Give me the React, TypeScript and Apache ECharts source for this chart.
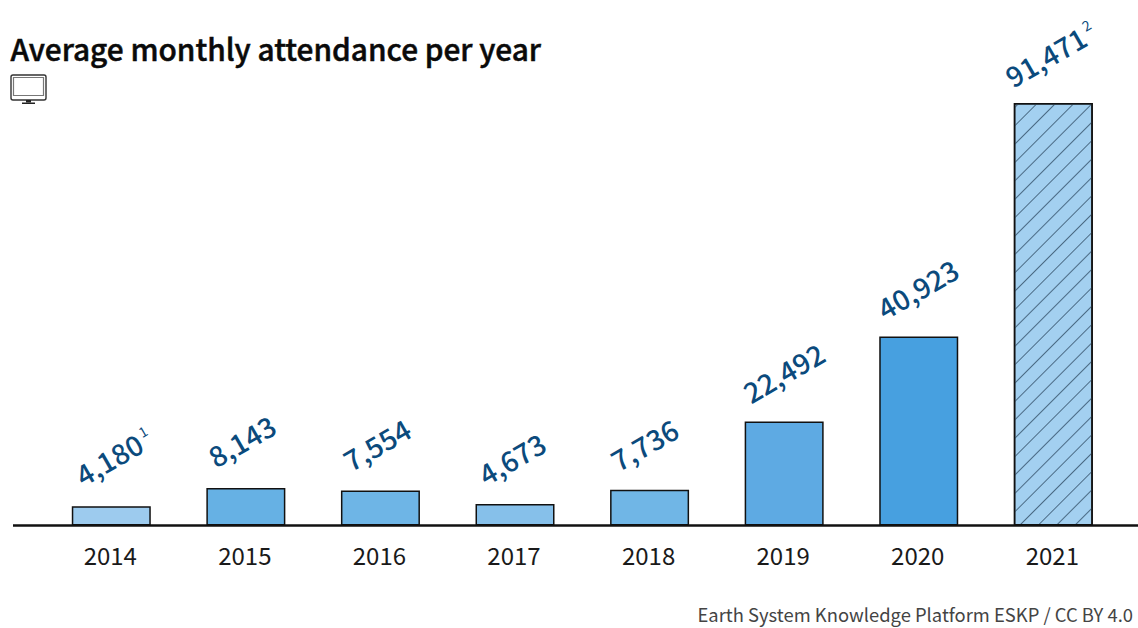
import React, { useEffect, useRef } from "react";
import * as echarts from "echarts";

const years = ["2014", "2015", "2016", "2017", "2018", "2019", "2020", "2021"];
const attendance = [4180, 8143, 7554, 4673, 7736, 22492, 40923, 91471];
const notes = ["1", "", "", "", "", "", "", "2"];
const barColors = ["#9dcbee", "#66b1e4", "#6eb5e6", "#86c0ea", "#70b6e6", "#5eaae3", "#47a0e0", "#a3d0f0"];
const labelOffsets = [[2, 1], [-5, 0], [-5, 1], [-5, 2], [-7, 1], [-1, 0], [-2, 1], [-3, -1]];
const title = "Average monthly attendance per year";
const source = "Earth System Knowledge Platform ESKP / CC BY 4.0";
const FONT = "'Noto Sans CJK SC', 'Noto Sans', sans-serif";

export default function App() {
  const ref = useRef<HTMLDivElement>(null);
  useEffect(() => {
    document.body.style.margin = "0";
    const chart = echarts.init(ref.current!, null, { renderer: "svg" });
    chart.setOption({
      animation: false,
      backgroundColor: "#ffffff",
      grid: { left: 44, right: 17.4, top: 103, bottom: 102.5, containLabel: false },
      xAxis: {
        type: "category",
        data: years,
        axisLine: { show: false },
        axisTick: { show: false },
        axisLabel: { fontFamily: FONT, fontSize: 24, color: "#1a1a1a", margin: 17, padding: [0, 2, 0, 0] },
      },
      yAxis: { type: "value", min: 0, max: 91471, show: false, splitLine: { show: false } },
      series: [
        {
          type: "bar",
          barWidth: 79,
          data: attendance.map((value, i) => ({
            value,
            itemStyle: {
              color: barColors[i],
              borderColor: "#111111",
              borderWidth: 1.5,
              ...(i === 7
                ? {
                    decal: {
                      symbol: "rect",
                      symbolSize: 1,
                      dashArrayX: [1, 0],
                      dashArrayY: [1, 11.2],
                      rotation: -Math.PI / 4,
                      color: "#4a6a84",
                    },
                  }
                : {}),
            },
            label: {
              show: true,
              position: "top",
              distance: 50,
              rotate: 30,
              align: "center",
              verticalAlign: "middle",
              offset: labelOffsets[i],
              formatter: () => {
                const text = value.toLocaleString("en-US");
                return notes[i] ? `{v|${text}}{s| ${notes[i]}}` : `{v|${text}}`;
              },
              rich: {
                v: { fontFamily: FONT, fontSize: 28, color: "#0b4a7c", fontWeight: 500 },
                s: { fontFamily: FONT, fontSize: 14, color: "#0b4a7c", verticalAlign: "top", padding: [0, 0, 14, 0] },
              },
            },
          })),
        },
      ],
      graphic: [
        {
          type: "text",
          x: 10.5,
          y: 33,
          style: { text: title, fontFamily: FONT, fontSize: 29.8, fontWeight: 500, fill: "#0a0a0a", stroke: "#0a0a0a", lineWidth: 0.5 },
        },
        {
          type: "text",
          right: 5,
          top: 605,
          style: { text: source, fontFamily: FONT, fontSize: 18.4, fill: "#444444" },
        },
        {
          type: "line",
          z: 10,
          shape: { x1: 13, y1: 525.5, x2: 1138, y2: 525.5 },
          style: { stroke: "#111111", lineWidth: 2.5 },
        },
        {
          type: "group",
          children: [
            { type: "rect", shape: { x: 11, y: 75, width: 35, height: 25, r: 2 }, style: { fill: "#ffffff", stroke: "#333333", lineWidth: 1.4 } },
            { type: "rect", shape: { x: 13.5, y: 77.5, width: 30, height: 18 }, style: { fill: "#ffffff", stroke: "#777777", lineWidth: 1.2 } },
            { type: "rect", shape: { x: 26, y: 100, width: 5, height: 2.5 }, style: { fill: "#222222" } },
            { type: "rect", shape: { x: 22, y: 102.5, width: 13, height: 1.5 }, style: { fill: "#222222" } },
          ],
        },
      ],
    });
    return () => chart.dispose();
  }, []);
  return <div ref={ref} style={{ width: 1138, height: 628 }} />;
}
